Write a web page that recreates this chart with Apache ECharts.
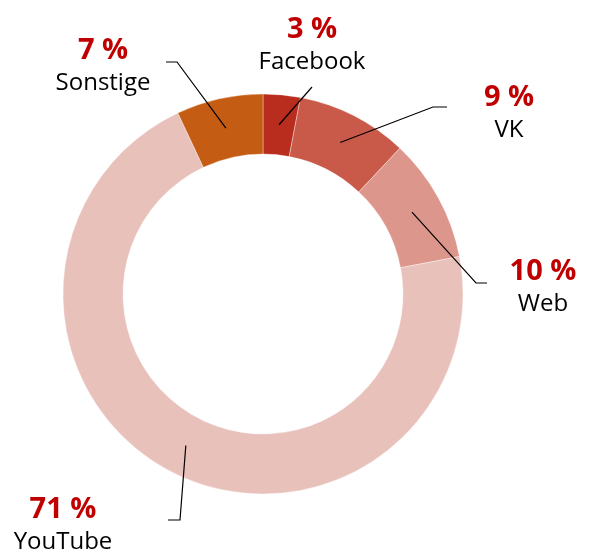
<!DOCTYPE html>
<html>
<head>
<meta charset="utf-8">
<script src="https://cdn.jsdelivr.net/npm/echarts@6/dist/echarts.min.js"></script>
<style>
html,body{margin:0;padding:0;background:#fff;}
#c{width:592px;height:556px;}
</style>
</head>
<body>
<div id="c"></div>
<script>
const categories = ['Facebook', 'VK', 'Web', 'YouTube', 'Sonstige'];
const values = [3, 9, 10, 71, 7];
const colors = ['#B92D1E', '#C95A4A', '#DD968C', '#E9C1BB', '#C45C14'];

// layout (label centre, knee, end of leader line) per category
const CX = 263, CY = 294, R0 = 140, R1 = 200, RL = 170;
const labelPos = [
  { x: 312, y: 46, knee: [312, 87], end: [312, 87] },
  { x: 509, y: 114, knee: [433, 107], end: [447, 107] },
  { x: 543, y: 288, knee: [476, 283], end: [487, 283] },
  { x: 63, y: 526, knee: [180, 520], end: [168, 520] },
  { x: 103, y: 67, knee: [177, 62], end: [166, 62] }
];

const total = values.reduce((a, b) => a + b, 0);
const startPts = [];
let acc = 0;
values.forEach(v => {
  const mid = (acc + v / 2) / total * 2 * Math.PI; // clockwise from top
  startPts.push([CX + RL * Math.sin(mid), CY - RL * Math.cos(mid)]);
  acc += v;
});

const chart = echarts.init(document.getElementById('c'));
chart.setOption({
  animation: false,
  series: [{
    type: 'pie',
    z: 2,
    center: [CX, CY],
    radius: [R0, R1],
    startAngle: 90,
    clockwise: true,
    silent: true,
    data: categories.map((c, i) => ({ name: c, value: values[i], itemStyle: { color: colors[i] } })),
    itemStyle: { borderColor: 'rgba(255,255,255,0.6)', borderWidth: 0.6 },
    label: { show: false },
    labelLine: { show: false },
    emphasis: { disabled: true }
  }, {
    type: 'pie',
    z: 5,
    center: [CX, CY],
    radius: [R0, R1],
    startAngle: 90,
    clockwise: true,
    silent: true,
    data: categories.map((c, i) => ({ name: c, value: values[i] })),
    itemStyle: { color: 'rgba(0,0,0,0)', borderWidth: 0 },
    label: {
      show: true,
      position: 'outside',
      formatter: p => '{p|' + p.value + ' %}\n{n|' + p.name + '}',
      rich: {
        p: { fontFamily: 'Open Sans', fontWeight: 'bold', fontSize: 29, color: '#C00000', lineHeight: 33, align: 'center' },
        n: { fontFamily: 'Open Sans', fontSize: 24, color: '#000', lineHeight: 33, align: 'center' }
      }
    },
    labelLine: { show: true, lineStyle: { color: '#000', width: 1.2 } },
    labelLayout: p => {
      const L = labelPos[p.dataIndex];
      return {
        x: L.x, y: L.y, align: 'center', verticalAlign: 'middle',
        labelLinePoints: [startPts[p.dataIndex], L.knee, L.end]
      };
    },
    emphasis: { disabled: true }
  }]
});
</script>
</body>
</html>
